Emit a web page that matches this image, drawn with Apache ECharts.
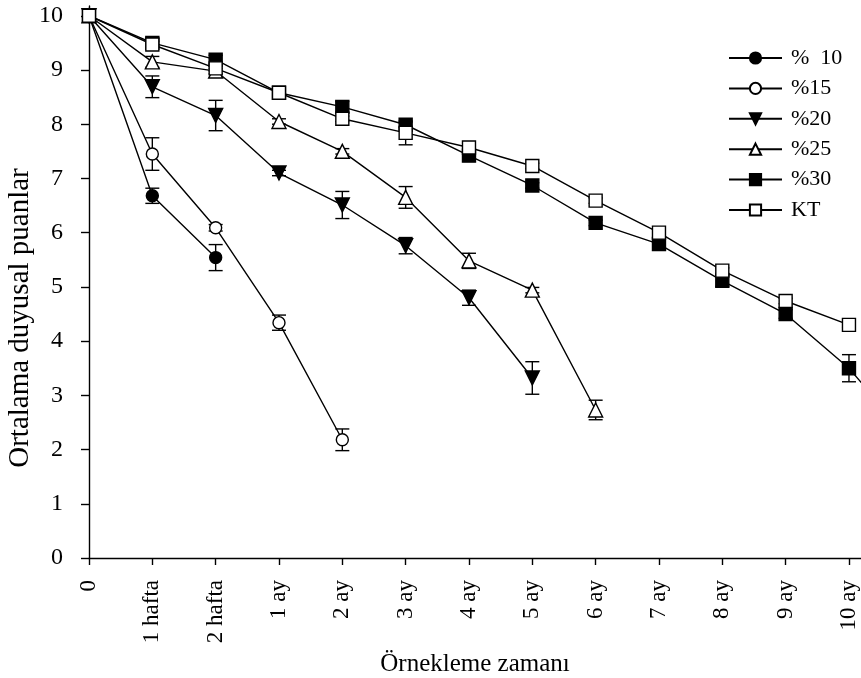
<!DOCTYPE html>
<html>
<head>
<meta charset="utf-8">
<script src="https://cdn.jsdelivr.net/npm/echarts@6/dist/echarts.min.js"></script>
<style>
  html, body { margin: 0; padding: 0; background: #fff; }
  #chart { width: 861px; height: 678px; }
</style>
</head>
<body>
<div id="chart"></div>
<script>
// Sampling times (x ticks)
const categories = ['0', '1 hafta', '2 hafta', '1 ay', '2 ay', '3 ay', '4 ay', '5 ay', '6 ay', '7 ay', '8 ay', '9 ay', '10 ay', '11 ay'];
const yTicks = [0, 1, 2, 3, 4, 5, 6, 7, 8, 9, 10];

// Mean sensory scores and their error (±) per group
const s10 = [10, 6.68, 5.54];
const e10 = [0, 0.14, 0.24];
const s15 = [10, 7.45, 6.09, 4.34, 2.18];
const e15 = [0, 0.30, 0.06, 0.14, 0.20];
const s20 = [10, 8.69, 8.16, 7.10, 6.51, 5.76, 4.80, 3.32];
const e20 = [0, 0.20, 0.28, 0.05, 0.25, 0.15, 0.14, 0.30];
const s25 = [10, 9.15, 8.98, 8.05, 7.50, 6.65, 5.48, 4.94, 2.73];
const e25 = [0, 0.10, 0.05, 0.05, 0.05, 0.20, 0.14, 0.05, 0.18];
const s30 = [10, 9.50, 9.19, 8.58, 8.32, 7.99, 7.42, 6.87, 6.18, 5.79, 5.11, 4.50, 3.50, 2.14];
const e30 = [0, 0.08, 0.08, 0.05, 0.10, 0.05, 0.05, 0.05, 0.05, 0.05, 0.10, 0.08, 0.25, 0];
const sKT = [10, 9.47, 9.03, 8.58, 8.10, 7.84, 7.57, 7.23, 6.59, 6.00, 5.30, 4.74, 4.30];
const eKT = [0, 0.06, 0.05, 0.05, 0.05, 0.22, 0.05, 0.05, 0.05, 0.05, 0.05, 0.05, 0.05];

const groups = [
  { name: '%  10', vals: s10, errs: e10, symbol: 'circle', fill: '#000', size: 12, rot: 0 },
  { name: '%15', vals: s15, errs: e15, symbol: 'circle', fill: '#fff', size: 12, rot: 0 },
  { name: '%20', vals: s20, errs: e20, symbol: 'triangle', fill: '#000', size: 14, rot: 180 },
  { name: '%25', vals: s25, errs: e25, symbol: 'triangle', fill: '#fff', size: 14, rot: 0 },
  { name: '%30', vals: s30, errs: e30, symbol: 'rect', fill: '#000', size: 13, rot: 0 },
  { name: 'KT', vals: sKT, errs: eKT, symbol: 'rect', fill: '#fff', size: 13, rot: 0 }
];

const FONT = '"Liberation Serif", "Times New Roman", serif';
const tickIdx = categories.slice(0, 13).map((_, i) => i);

// Error bars: vertical whisker with caps, drawn under the markers
function errorBarSeries(g) {
  const data = g.vals.map((v, i) => [i, v, g.errs[i]]).filter(d => d[2] > 0);
  return {
    type: 'custom',
    name: g.name + '_err',
    z: 1,
    silent: true,
    clip: true,
    data: data,
    encode: { x: 0, y: 1 },
    renderItem: function (params, api) {
      const x = api.value(0), y = api.value(1), e = api.value(2);
      const top = api.coord([x, y + e]);
      const bot = api.coord([x, y - e]);
      const hw = 7;
      const style = { stroke: '#000', lineWidth: 1.4 };
      return {
        type: 'group',
        children: [
          { type: 'line', shape: { x1: top[0], y1: top[1], x2: bot[0], y2: bot[1] }, style: style },
          { type: 'line', shape: { x1: top[0] - hw, y1: top[1], x2: top[0] + hw, y2: top[1] }, style: style },
          { type: 'line', shape: { x1: bot[0] - hw, y1: bot[1], x2: bot[0] + hw, y2: bot[1] }, style: style }
        ]
      };
    }
  };
}

const lineSeries = groups.map((g, k) => ({
  type: 'line',
  name: g.name,
  z: 2 + k,
  data: g.vals.map((v, i) => [i, v]),
  symbol: g.symbol,
  symbolSize: g.size,
  symbolRotate: g.rot,
  showAllSymbol: true,
  clip: true,
  lineStyle: { color: '#000', width: 1.4 },
  itemStyle: { color: g.fill, borderColor: '#000', borderWidth: 1.4, opacity: 1 },
  emphasis: { disabled: true },
  animation: false
}));

const chart = echarts.init(document.getElementById('chart'));
chart.setOption({
  animation: false,
  backgroundColor: '#fff',
  grid: { left: 89, right: 0, top: 6, bottom: 120, containLabel: false, outerBoundsMode: 'none' },
  legend: {
    orient: 'vertical',
    left: 723,
    top: 42,
    itemWidth: 53,
    itemHeight: 14,
    itemGap: 8.4,
    data: groups.map(g => g.name),
    textStyle: { fontFamily: FONT, fontSize: 22, color: '#000', padding: [0, 0, 0, 4], lineHeight: 22 },
    selectedMode: false
  },
  graphic: [{
    type: 'text',
    x: 20,
    y: 318,
    rotation: Math.PI / 2,
    style: {
      text: 'Ortalama duyusal puanlar',
      fontFamily: FONT,
      fontSize: 29,
      fill: '#000',
      align: 'center',
      verticalAlign: 'middle'
    }
  }],
  xAxis: {
    type: 'value',
    min: 0,
    max: 12.19,
    interval: 1,
    name: 'Örnekleme zamanı',
    nameLocation: 'middle',
    nameGap: 94,
    nameTextStyle: { fontFamily: FONT, fontSize: 25, color: '#000' },
    splitLine: { show: false },
    axisLine: { onZero: false, lineStyle: { color: '#000', width: 1.4 } },
    axisTick: { show: true, length: 7, inside: false, customValues: tickIdx, lineStyle: { color: '#000', width: 1.4 } },
    axisLabel: {
      customValues: tickIdx,
      rotate: 90,
      margin: 22,
      fontFamily: FONT,
      fontSize: 23,
      color: '#000',
      formatter: v => categories[Math.round(v)]
    }
  },
  yAxis: {
    type: 'value',
    min: 0,
    max: 10.18,
    interval: 1,
    splitLine: { show: false },
    axisLine: { show: true, onZero: false, lineStyle: { color: '#000', width: 1.4 } },
    axisTick: { show: true, length: 8, inside: false, customValues: yTicks, lineStyle: { color: '#000', width: 1.4 } },
    axisLabel: {
      customValues: yTicks,
      margin: 26,
      fontFamily: FONT,
      fontSize: 24,
      color: '#000'
    }
  },
  series: groups.map(errorBarSeries).concat(lineSeries)
});
</script>
</body>
</html>
